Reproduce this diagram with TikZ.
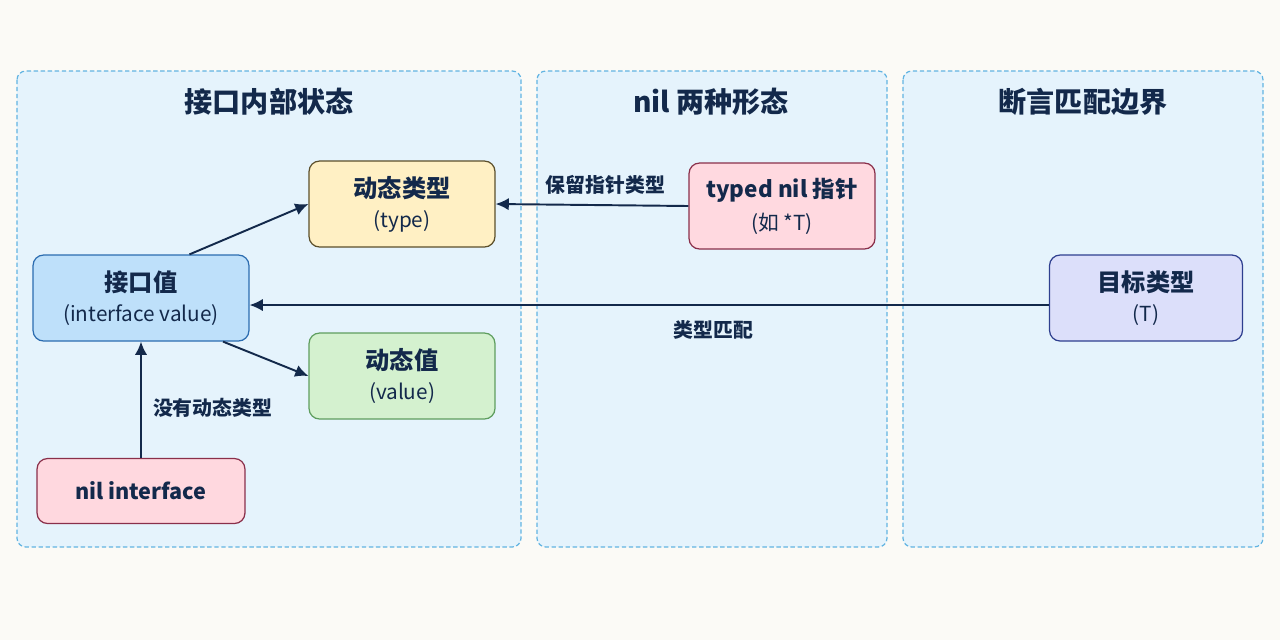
\documentclass[tikz,border=0pt]{standalone}
\usepackage{fontspec}
\setmainfont{Noto Sans CJK SC}
\usepackage{tikz}
\usetikzlibrary{arrows.meta}

\definecolor{ink}{HTML}{13294B}
\definecolor{paper}{HTML}{FBFAF6}
\definecolor{panelfill}{HTML}{E5F3FC}
\definecolor{paneldash}{HTML}{62B4E2}

\begin{document}
\begin{tikzpicture}[x=0.02cm,y=-0.02cm,
  panel/.style={draw=paneldash,fill=panelfill,line width=0.7pt,dash pattern=on 2.5pt off 1.5pt,rounded corners=5pt},
  heading/.style={text=ink,font=\fontsize{16}{18}\selectfont\bfseries},
  box/.style={draw,rounded corners=6pt,line width=0.7pt,minimum width=3.72cm,minimum height=1.72cm,align=center,text=ink},
  big/.style={font=\fontsize{12.3}{15}\selectfont\bfseries},
  link/.style={draw=ink,line width=1.1pt,-{Latex[length=7.5pt,width=7pt]}},
  lbl/.style={text=ink,font=\fontsize{11.3}{13}\selectfont\bfseries}]

% Page
\fill[paper] (0,0) rectangle (1280,640);
\useasboundingbox (0,0) rectangle (1280,640);

% Three panels
\draw[panel] (17,71) rectangle (521,547);
\draw[panel] (537,71) rectangle (887,547);
\draw[panel] (903,71) rectangle (1263,547);

\node[heading] (t1) at (269,102) {接口内部状态};
\node[heading] (t2) at (711,102) {nil 两种形态};
\node[heading] (t3) at (1083,102) {断言匹配边界};

% Interface internals
\node[box,minimum width=4.32cm,fill={rgb,255:red,190;green,224;blue,250},draw={rgb,255:red,43;green,108;blue,176}]
  (iface) at (141,298) {{\fontsize{13.8}{16}\selectfont\bfseries 接口值}\\[5pt]{\fontsize{11.8}{13}\selectfont (interface value)}};
\node[box,fill={rgb,255:red,255;green,240;blue,196},draw={rgb,255:red,92;green,79;blue,43}]
  (dtype) at (402,204) {{\fontsize{13.8}{16}\selectfont\bfseries 动态类型}\\[5pt]{\fontsize{11.8}{13}\selectfont (type)}};
\node[box,fill={rgb,255:red,212;green,241;blue,207},draw={rgb,255:red,94;green,158;blue,94}]
  (dval) at (402,376) {{\fontsize{13.8}{16}\selectfont\bfseries 动态值}\\[5pt]{\fontsize{11.8}{13}\selectfont (value)}};
\node[box,minimum width=4.16cm,minimum height=1.3cm,fill={rgb,255:red,255;green,216;blue,223},draw={rgb,255:red,138;green,47;blue,74},big]
  (nilif) at (141,491) {nil interface};

% nil forms
\node[box,fill={rgb,255:red,255;green,217;blue,224},draw={rgb,255:red,138;green,47;blue,74}]
  (typed) at (782,206) {{\fontsize{12.8}{16}\selectfont\bfseries typed nil 指针}\\[5pt]{\fontsize{11.8}{13}\selectfont (如 *T)}};

% Assertion target
\node[box,minimum width=3.86cm,fill={rgb,255:red,220;green,223;blue,250},draw={rgb,255:red,46;green,63;blue,143}]
  (target) at (1146,298) {{\fontsize{13.8}{16}\selectfont\bfseries 目标类型}\\[5pt]{\fontsize{11.8}{13}\selectfont (T)}};

% Arrows
\draw[link] (iface.42) -- (dtype.west);
\draw[link] (iface.-28) -- (dval.west);
\draw[link] (nilif.north) -- node[lbl,pos=0.43,right=3pt] {没有动态类型} (iface.south);
\draw[link] (typed.west) -- node[lbl,pos=0.43,above=2pt] {保留指针类型} (dtype.east);
\draw[link] ([yshift=-4pt]target.west) -- node[lbl,pos=0.42,below=5pt] {类型匹配} ([yshift=-4pt]iface.east);

\end{tikzpicture}
\end{document}
